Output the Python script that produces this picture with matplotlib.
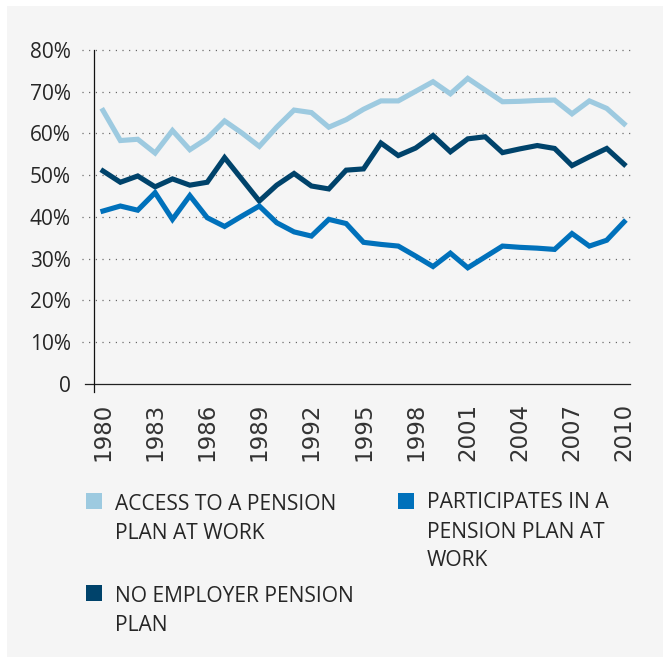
import matplotlib
matplotlib.use("Agg")
import matplotlib.pyplot as plt
from matplotlib.patches import Rectangle

years = list(range(1980, 2011))
access = [65.5, 58.3, 58.6, 55.3, 60.7, 56.1, 58.8, 63.0, 60.1, 56.9, 61.5,
          65.6, 65.0, 61.5, 63.3, 65.8, 67.8, 67.8, 70.1, 72.4, 69.5,
          73.2, 70.4, 67.6, 67.7, 67.9, 68.0, 64.7, 67.8, 66.0, 62.3]
no_employer = [51.0, 48.3, 49.8, 47.2, 49.1, 47.6, 48.3, 54.2, 49.0, 43.8, 47.6,
               50.4, 47.4, 46.7, 51.2, 51.5, 57.7, 54.7, 56.5, 59.5, 55.6,
               58.7, 59.2, 55.4, 56.3, 57.1, 56.4, 52.3, 54.4, 56.4, 52.6]
participates = [41.4, 42.6, 41.6, 45.8, 39.4, 45.1, 39.8, 37.7, 40.2, 42.6, 38.6,
                36.4, 35.4, 39.4, 38.4, 33.9, 33.4, 33.0, 30.6, 28.1, 31.3,
                27.8, 30.4, 33.0, 32.7, 32.5, 32.2, 36.0, 33.0, 34.4, 38.8]

xtick_years = list(range(1980, 2011, 3))
ytick_vals = [0, 10, 20, 30, 40, 50, 60, 70, 80]
ytick_labels = ["0", "10%", "20%", "30%", "40%", "50%", "60%", "70%", "80%"]

series_labels = [["ACCESS TO A PENSION", "PLAN AT WORK"],
                 ["PARTICIPATES IN A", "PENSION PLAN AT", "WORK"],
                 ["NO EMPLOYER PENSION", "PLAN"]]

c_light = "#9dcae0"
c_mid = "#0071bb"
c_dark = "#00436b"
txt = "#262626"
W, H = 663, 665

plt.rcParams['lines.scale_dashes'] = False
fig = plt.figure(figsize=(W / 100, H / 100), dpi=100, facecolor="white")
fig.patches.append(Rectangle((7 / W, 1 - 657 / H), 1, (657 - 6) / H,
                             transform=fig.transFigure, facecolor="#f5f5f5",
                             edgecolor="none", zorder=-10))

ax = fig.add_axes([94.3 / W, 1 - 392.3 / H, (630 - 94.3) / W, (392.3 - 50) / H])
ax.set_facecolor("none")
ax.set_zorder(5)
ax.set_xlim(1979.5, 2010.34)
ax.set_ylim(-2.05, 80)

# gridlines (dotted) extending slightly left of axis
for v in ytick_vals[1:]:
    ax.plot([-0.0235, 1], [v, v], transform=ax.get_yaxis_transform(),
            color="#555555", lw=0.9, linestyle=(0, (0.75, 4.05)),
            clip_on=False, zorder=1)
# zero line
ax.plot([-0.017, 1], [0, 0], transform=ax.get_yaxis_transform(),
        color="#222222", lw=0.9, clip_on=False, zorder=2)

lw = 3.7
ax.plot(years, access, color=c_light, lw=lw, solid_joinstyle="miter", zorder=3)
ax.plot(years, no_employer, color=c_dark, lw=lw, solid_joinstyle="miter", zorder=3)
ax.plot(years, participates, color=c_mid, lw=lw, solid_joinstyle="miter", zorder=4)

for s in ["top", "right", "bottom"]:
    ax.spines[s].set_visible(False)
ax.spines["left"].set_color("#111111")
ax.spines["left"].set_linewidth(0.9)

ax.set_yticks(ytick_vals)
ax.set_yticklabels(ytick_labels, fontfamily=["Open Sans", "DejaVu Sans"],
                   fontsize=15, color=txt)
ax.tick_params(axis="y", length=0, pad=17)
ax.set_xticks(xtick_years)
ax.set_xticklabels([str(y) for y in xtick_years], rotation=90,
                   fontfamily=["Liberation Sans Narrow", "DejaVu Sans"],
                   fontsize=16.5, color="#333333")
ax.tick_params(axis="x", length=0, pad=7.5)

# legend
lfont = dict(fontfamily=["Open Sans", "DejaVu Sans"], fontsize=15.1, color=txt,
             va="baseline", ha="left")
items = [(c_light, 86, 493, 115, 510, series_labels[0]),
         (c_mid, 398, 493, 427, 508.5, series_labels[1]),
         (c_dark, 86, 585, 115, 602, series_labels[2])]
for col, sx, sy, tx, ty, lines in items:
    fig.patches.append(Rectangle((sx / W, 1 - (sy + 16) / H), 15.5 / W, 16 / H,
                                 transform=fig.transFigure, facecolor=col,
                                 edgecolor="none", zorder=2))
    for i, line in enumerate(lines):
        fig.text(tx / W, 1 - (ty + i * 29) / H, line, **lfont)

fig.savefig("out.png", dpi=100, facecolor="white")
